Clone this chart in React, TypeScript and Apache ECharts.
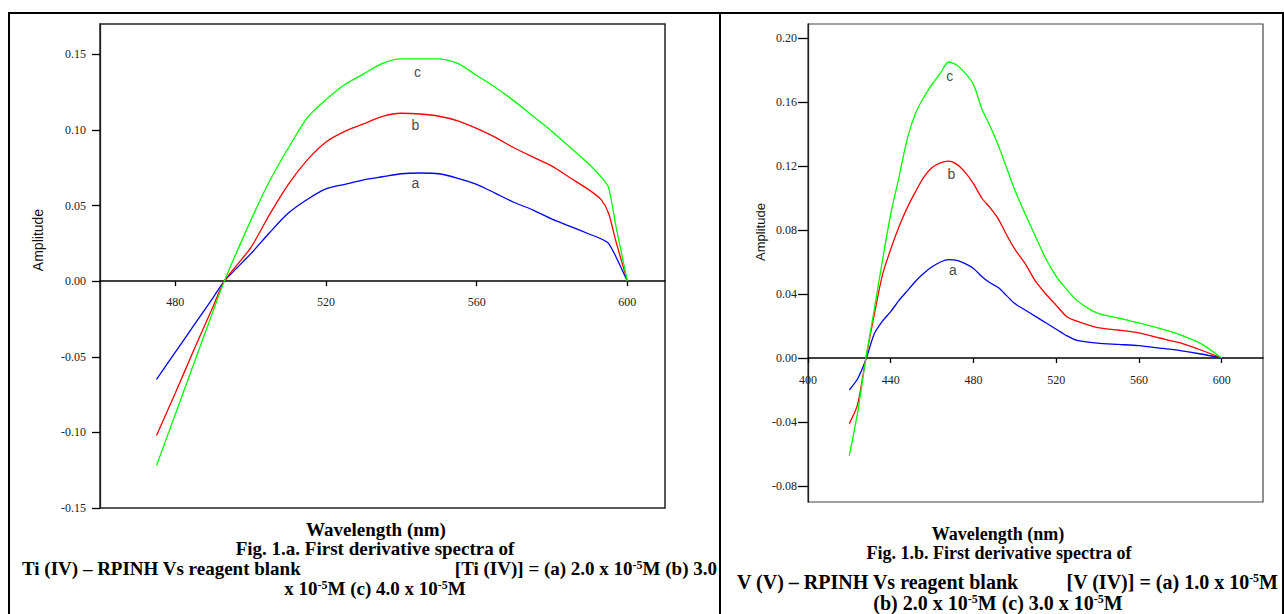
import React, { useEffect, useRef } from "react";
import * as echarts from "echarts";

// ---------- Fig 1.a (Ti IV) ----------
const leftWavelengths = [475, 480, 485, 490, 493, 500, 505, 510, 515, 520, 525, 530, 535, 540, 545, 550, 555, 560, 565, 570, 575, 580, 585, 590, 593, 595, 597, 600];
const leftA = [-0.065, -0.047, -0.029, -0.011, 0, 0.018, 0.032, 0.045, 0.054, 0.061, 0.064, 0.067, 0.069, 0.071, 0.0715, 0.071, 0.068, 0.064, 0.058, 0.052, 0.047, 0.041, 0.036, 0.031, 0.028, 0.025, 0.016, 0];
const leftB = [-0.102, -0.074, -0.045, -0.017, 0, 0.022, 0.044, 0.064, 0.080, 0.092, 0.099, 0.104, 0.109, 0.111, 0.1105, 0.109, 0.106, 0.101, 0.095, 0.088, 0.082, 0.076, 0.068, 0.060, 0.054, 0.045, 0.026, 0];
const leftC = [-0.122, -0.088, -0.054, -0.020, 0, 0.040, 0.066, 0.088, 0.108, 0.120, 0.130, 0.137, 0.144, 0.147, 0.147, 0.147, 0.144, 0.136, 0.128, 0.119, 0.109, 0.099, 0.088, 0.077, 0.069, 0.062, 0.036, 0];
const leftXTicks = [480, 520, 560, 600];
const leftYTicks = [-0.15, -0.1, -0.05, 0, 0.05, 0.1, 0.15];
const leftLabelNames = ["a", "b", "c"];
const leftLabelX = [543.7, 543.7, 544.3];
const leftLabelY = [0.0648, 0.1035, 0.138];

// ---------- Fig 1.b (V V) ----------
const rightWavelengths = [420, 424, 428, 432, 436, 440, 444, 448, 452, 456, 460, 464, 468, 472, 476, 480, 484, 488, 492, 496, 500, 505, 510, 515, 520, 525, 530, 540, 550, 560, 570, 580, 590, 600];
const rightA = [-0.020, -0.013, -0.001, 0.015, 0.023, 0.029, 0.036, 0.042, 0.048, 0.053, 0.057, 0.060, 0.0615, 0.061, 0.059, 0.056, 0.051, 0.047, 0.044, 0.039, 0.034, 0.030, 0.026, 0.022, 0.018, 0.014, 0.011, 0.0093, 0.0085, 0.0077, 0.0062, 0.0046, 0.0025, 0];
const rightB = [-0.041, -0.029, 0, 0.027, 0.052, 0.068, 0.082, 0.094, 0.104, 0.113, 0.119, 0.122, 0.123, 0.121, 0.116, 0.109, 0.100, 0.094, 0.087, 0.077, 0.068, 0.059, 0.048, 0.040, 0.033, 0.026, 0.023, 0.019, 0.0175, 0.0157, 0.0125, 0.0094, 0.005, 0];
const rightC = [-0.061, -0.034, 0, 0.030, 0.061, 0.090, 0.113, 0.137, 0.153, 0.163, 0.171, 0.178, 0.185, 0.183, 0.178, 0.171, 0.156, 0.145, 0.133, 0.119, 0.105, 0.090, 0.076, 0.062, 0.051, 0.043, 0.036, 0.028, 0.025, 0.022, 0.0185, 0.0145, 0.009, 0];
const rightXTicks = [400, 440, 480, 520, 560, 600];
const rightYTicks = [-0.08, -0.04, 0, 0.04, 0.08, 0.12, 0.16, 0.2];
const rightLabelNames = ["a", "b", "c"];
const rightLabelX = [470, 469.3, 468.5];
const rightLabelY = [0.0547, 0.115, 0.176];

const COLORS = ["#0000ff", "#ff0000", "#00ff00"];

const zip = (xs: number[], ys: number[]) => xs.map((x, i) => [x, ys[i]]);

const SERIF_FAMILY = "Liberation Serif";
const SERIF = '"Liberation Serif", "Times New Roman", serif';
const SANS = '"Liberation Sans", Arial, sans-serif';

// grid geometry (pixels)
const G0 = { left: 100, top: 24, width: 565, height: 484 };
const G1 = { left: 808, top: 24, width: 455, height: 478 };
const Y0 = [-0.15, 0.17];
const Y1 = [-0.09, 0.20875];

// offset that puts the bottom x axis on the y = 0 line
const zeroOffset = (g: { height: number }, yr: number[]) => -(g.height * (0 - yr[0]) / (yr[1] - yr[0]));

function buildOption() {
  const lineSeries = (name: string, xs: number[], ys: number[], color: string, idx: number) => ({
    type: "line",
    name,
    xAxisIndex: idx,
    yAxisIndex: idx,
    data: zip(xs, ys),
    showSymbol: false,
    symbol: "none",
    smooth: 0.25,
    lineStyle: { color, width: 1.3 },
    silent: true,
    z: 3,
  });
  const labelSeries = (names: string[], xs: number[], ys: number[], idx: number) => ({
    type: "scatter",
    xAxisIndex: idx,
    yAxisIndex: idx,
    symbolSize: 1,
    itemStyle: { color: "rgba(0,0,0,0)" },
    silent: true,
    data: names.map((n, i) => ({ value: [xs[i], ys[i]], name: n })),
    label: {
      show: true,
      position: "inside",
      formatter: (p: any) => p.name,
      fontFamily: "Liberation Sans",
      fontSize: 14,
      color: "#111",
    },
    z: 5,
  });

  const yAxisBase = (yr: number[], ticks: number[], idx: number, tickLen: number, margin: number) => ({
    type: "value",
    gridIndex: idx,
    min: yr[0],
    max: yr[1],
    axisLine: { show: true, onZero: false, lineStyle: { color: "#222", width: 1.3 } },
    axisTick: { show: true, inside: false, length: tickLen, customValues: ticks, lineStyle: { color: "#000", width: 1.3 } },
    axisLabel: {
      show: true,
      customValues: ticks,
      formatter: (v: number) => v.toFixed(2),
      fontFamily: SERIF_FAMILY,
      fontSize: 12,
      color: "#222",
      margin,
    },
    splitLine: { show: false },
  });
  const xAxisBase = (min: number, max: number, ticks: number[], idx: number, margin: number, offset: number) => ({
    type: "value",
    gridIndex: idx,
    position: "bottom",
    offset,
    min,
    max,
    axisLine: { show: true, onZero: false, lineStyle: { color: "#000", width: 1.5 } },
    axisTick: { show: true, inside: false, length: 5, customValues: ticks, lineStyle: { color: "#000", width: 1.3 } },
    axisLabel: {
      show: true,
      customValues: ticks,
      fontFamily: SERIF_FAMILY,
      fontSize: 12,
      color: "#222",
      margin,
    },
    splitLine: { show: false },
  });

  const supRich = { s: { fontSize: 12, fontWeight: "bold", fontFamily: SERIF_FAMILY, lineHeight: 12, verticalAlign: "top", fill: "#000" } };
  const capText = (text: string, x: number, y: number, size: number, align: string = "center") => ({
    type: "text",
    x,
    y,
    style: {
      text,
      font: `bold ${size}px ${SERIF}`,
      fill: "#000",
      textAlign: align,
      textVerticalAlign: "middle",
      rich: supRich,
    },
  });

  return {
    animation: false,
    backgroundColor: "#fff",
    grid: [
      { ...G0, show: true, borderColor: "#222", borderWidth: 1.5, backgroundColor: "transparent" },
      { ...G1, show: true, borderColor: "#444", borderWidth: 1.2, backgroundColor: "transparent" },
    ],
    xAxis: [
      xAxisBase(460, 610, leftXTicks, 0, 15, zeroOffset(G0, Y0)),
      xAxisBase(400, 620, rightXTicks, 1, 16, zeroOffset(G1, Y1)),
    ],
    yAxis: [yAxisBase(Y0, leftYTicks, 0, 8, 14), yAxisBase(Y1, rightYTicks, 1, 10, 11)],
    series: [
      lineSeries("a", leftWavelengths, leftA, COLORS[0], 0),
      lineSeries("b", leftWavelengths, leftB, COLORS[1], 0),
      lineSeries("c", leftWavelengths, leftC, COLORS[2], 0),
      labelSeries(leftLabelNames, leftLabelX, leftLabelY, 0),
      lineSeries("a", rightWavelengths, rightA, COLORS[0], 1),
      lineSeries("b", rightWavelengths, rightB, COLORS[1], 1),
      lineSeries("c", rightWavelengths, rightC, COLORS[2], 1),
      labelSeries(rightLabelNames, rightLabelX, rightLabelY, 1),
    ],
    graphic: [
      { type: "rect", shape: { x: 9, y: 13, width: 1274, height: 700 }, style: { fill: "none", stroke: "#000", lineWidth: 2 }, silent: true },
      { type: "line", shape: { x1: 720, y1: 13, x2: 720, y2: 614 }, style: { stroke: "#000", lineWidth: 2 }, silent: true },
      { type: "text", x: 38, y: 240, rotation: Math.PI / 2, style: { text: "Amplitude", font: `14px ${SANS}`, fill: "#111", textAlign: "center", textVerticalAlign: "middle" } },
      { type: "text", x: 760, y: 232, rotation: Math.PI / 2, style: { text: "Amplitude", font: `13px ${SANS}`, fill: "#111", textAlign: "center", textVerticalAlign: "middle" } },
      capText("Wavelength (nm)", 376, 529, 19),
      capText("Fig. 1.a. First derivative spectra of", 375, 548, 19),
      capText("Ti (IV) – RPINH Vs reagent blank", 22, 568, 19, "left"),
      capText("[Ti (IV)] = (a) 2.0 x 10{s|-5}M (b) 3.0", 717, 568, 19, "right"),
      capText("x 10{s|-5}M (c) 4.0 x 10{s|-5}M", 375, 588, 19),
      capText("Wavelength (nm)", 998, 534, 18),
      capText("Fig. 1.b. First derivative spectra of", 999, 553, 18),
      capText("V (V) – RPINH Vs reagent blank", 737, 582, 20, "left"),
      capText("[V (IV)] = (a) 1.0 x 10{s|-5}M", 1278, 582, 20, "right"),
      capText("(b) 2.0 x 10{s|-5}M (c) 3.0 x 10{s|-5}M", 998, 603, 20),
    ],
  };
}

export default function App() {
  const ref = useRef<HTMLDivElement>(null);
  useEffect(() => {
    if (!ref.current) return;
    const chart = echarts.init(ref.current, null, { renderer: "svg" });
    chart.setOption(buildOption() as any);
    return () => chart.dispose();
  }, []);
  return (
    <div
      ref={ref}
      style={{ position: "fixed", left: 0, top: 0, width: 1284, height: 614, background: "#fff" }}
    />
  );
}
